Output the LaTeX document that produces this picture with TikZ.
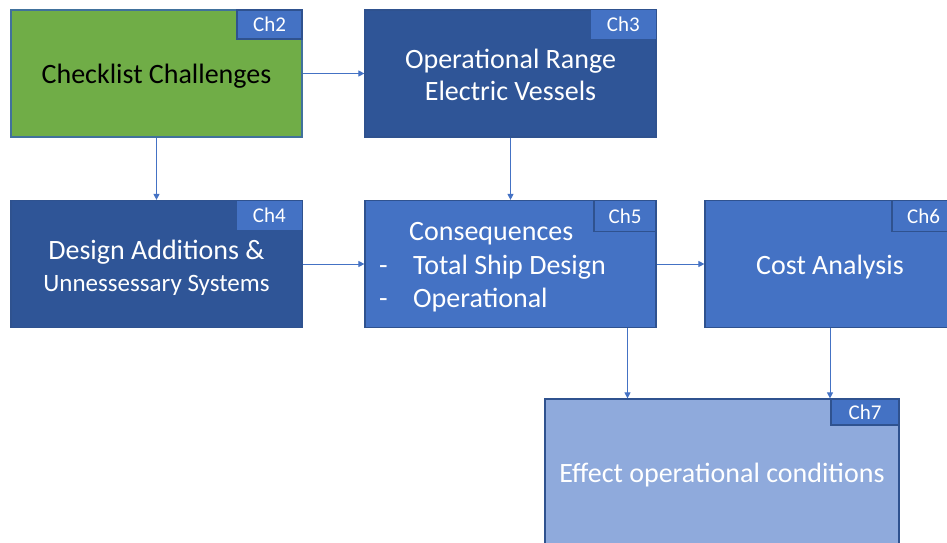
\documentclass[tikz,border=0pt]{standalone}
\usepackage{fontspec}
\setmainfont{Carlito}
\usetikzlibrary{arrows.meta}
\definecolor{cgreen}{HTML}{70AD47}
\definecolor{cdark}{HTML}{2F5597}
\definecolor{cmid}{HTML}{4472C4}
\definecolor{clight}{HTML}{8FAADC}
\definecolor{cedge}{HTML}{2F528F}
\definecolor{cgedge}{HTML}{41719C}
\tikzset{
  box/.style={draw=cedge, line width=1.2pt, minimum width=291pt, minimum height=127pt, inner sep=0pt, text=white, font=\fontsize{28}{32}\selectfont, align=center},
  lbl/.style={inner sep=0pt, text=white, font=\fontsize{28}{32}\selectfont, align=center},
  tab/.style={anchor=north east, minimum width=65pt, minimum height=29pt, inner sep=0pt, fill=cmid, text=white, font=\fontsize{21}{24}\selectfont},
  tabedge/.style={tab, draw=cedge, line width=1.2pt},
  txt/.style={inner sep=0pt, text=white, font=\fontsize{28}{32}\selectfont, anchor=base west},
  arr/.style={draw=cmid, line width=1pt, -{Triangle[width=6pt,length=6pt]}}
}
\begin{document}
\begin{tikzpicture}[x=1pt,y=-1pt]
\useasboundingbox (0,0) rectangle (947,543);
\node[box, fill=cgreen, draw=cgedge] (b1) at (156.5,73.5) {};
\node[box, fill=cdark] (b2) at (510.5,73.5) {};
\node[box, fill=cdark] (b3) at (156.5,264) {};
\node[box, fill=cmid] (b4) at (510.5,264) {};
\node[box, fill=cmid, minimum width=250pt] (b5) at (830,264) {};
\node[box, fill=clight, minimum width=354pt, minimum height=148pt] (b6) at (722,473) {};
% labels
\node[lbl, text=black] (l1) at ([yshift=-3pt]b1.center) {Checklist Challenges};
\node[lbl] (l2) at ([yshift=-1pt]b2.center) {Operational Range\\Electric Vessels};
\node[lbl] (l3) at ([yshift=-4pt]b3.center) {Design Additions \&\\{\fontsize{25}{32}\selectfont Unnessessary Systems}};
\node[lbl] (l5) at ([yshift=-3pt]b5.center) {Cost Analysis};
\node[lbl] (l6) at ([yshift=-2pt]b6.center) {Effect operational conditions};
% tabs
\node[tabedge] (t2) at (b1.north east) {Ch2};
\node[tab] (t3) at ([xshift=-0.6pt,yshift=-0.6pt]b2.north east) {Ch3};
\node[tab] (t4) at ([xshift=-0.6pt,yshift=-0.6pt]b3.north east) {Ch4};
\node[tabedge, minimum width=62pt, minimum height=31pt] (t5) at (b4.north east) {Ch5};
\node[tabedge, minimum width=63pt, minimum height=31pt] (t6) at (b5.north east) {Ch6};
\node[tabedge, minimum width=68pt, minimum height=26pt] (t7) at (b6.north east) {Ch7};
% consequences text
\node[txt] (c1) at (409,240) {Consequences};
\node[txt] (d1) at (379,274) {-};
\node[txt] (c2) at (413,274) {Total Ship Design};
\node[txt] (d2) at (379,307) {-};
\node[txt] (c3) at (413,307) {Operational};
% connectors
\draw[arr] (b1.east) -- (b2.west);
\draw[arr] (b1.south) -- (b3.north);
\draw[arr] (b2.south) -- (b4.north);
\draw[arr] (b3.east) -- (b4.west);
\draw[arr] (b4.east) -- (b5.west);
\coordinate (p4) at ([xshift=117pt]b4.south);
\draw[arr] (p4) -- (p4 |- b6.north);
\draw[arr] (b5.south) -- (b5.south |- b6.north);
\end{tikzpicture}
\end{document}
